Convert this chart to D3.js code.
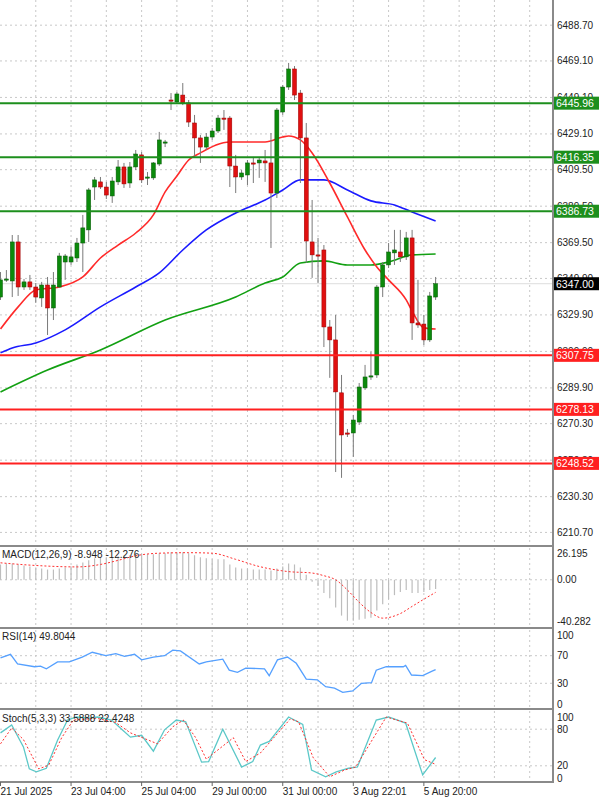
<!DOCTYPE html>
<html><head><meta charset="utf-8">
<script src="https://cdn.jsdelivr.net/npm/d3@7"></script>
<style>body{margin:0;background:#fff}svg{display:block;font-family:"Liberation Sans",Arial,sans-serif}</style>
</head><body><svg id="c" width="600" height="798"></svg>
<script>
const opens=[6339.7,6349.6,6348.5,6369.9,6345.2,6348.0,6345.2,6339.2,6346.3,6333.7,6345.2,6358.9,6358.9,6361.1,6369.3,6376.5,6400.0,6402.8,6400.0,6395.1,6402.8,6411.0,6402.2,6411.0,6417.6,6405.0,6405.0,6412.6,6424.7,6447.7,6446.6,6450.4,6446.1,6435.1,6426.9,6421.9,6427.4,6430.7,6437.8,6437.8,6411.5,6405.5,6406.6,6413.2,6413.2,6414.3,6413.2,6396.7,6441.1,6454.8,6464.7,6451.5,6426.9,6369.9,6362.8,6365.5,6323.3,6316.2,6287.2,6265.2,6265.2,6271.2,6289.9,6295.9,6297.0,6345.2,6357.3,6363.9,6364.4,6361.7,6372.1,6325.5,6324.9,6316.2,6339.7];
const highs=[6353.4,6354.5,6373.7,6373.7,6349.6,6351.8,6347.4,6348.0,6350.7,6353.4,6363.9,6363.3,6367.1,6372.1,6384.7,6399.5,6405.5,6405.5,6402.8,6405.5,6414.8,6413.2,6413.7,6420.3,6419.2,6408.2,6413.7,6430.2,6425.8,6451.5,6452.1,6457.0,6447.7,6439.5,6428.5,6429.6,6432.4,6439.5,6442.2,6438.9,6417.6,6409.3,6414.8,6416.5,6416.5,6420.3,6429.6,6443.3,6455.9,6468.0,6466.3,6453.2,6435.1,6392.9,6372.1,6368.2,6327.1,6329.9,6297.0,6267.4,6275.1,6292.6,6302.5,6309.6,6346.3,6358.9,6369.3,6376.5,6376.5,6375.4,6376.5,6349.1,6329.9,6342.5,6350.7];
const lows=[6338.1,6348.0,6339.7,6340.3,6343.6,6343.6,6336.5,6334.3,6318.9,6327.1,6344.7,6349.1,6357.3,6358.9,6353.4,6369.9,6392.9,6398.9,6393.4,6391.3,6401.1,6399.5,6399.5,6409.3,6402.2,6401.1,6403.9,6411.5,6421.9,6442.2,6445.5,6444.9,6432.9,6416.5,6413.2,6420.3,6425.8,6429.6,6431.3,6400.0,6396.7,6403.9,6401.1,6402.2,6405.0,6402.8,6366.6,6394.0,6439.5,6453.2,6447.7,6402.2,6358.4,6350.2,6347.4,6312.3,6295.4,6243.8,6240.6,6263.0,6252.1,6269.6,6288.8,6294.3,6295.4,6339.7,6355.6,6357.3,6358.9,6360.0,6316.2,6322.8,6313.4,6315.1,6338.1];
const closes=[6349.1,6349.6,6369.9,6345.2,6348.0,6345.2,6339.7,6346.3,6333.7,6346.3,6362.2,6362.2,6361.7,6369.3,6377.6,6398.4,6403.9,6400.0,6395.6,6403.3,6411.0,6401.7,6411.0,6418.1,6403.9,6405.5,6413.2,6425.8,6424.7,6447.4,6451.0,6446.1,6435.6,6426.9,6421.9,6427.4,6430.7,6437.8,6437.5,6411.5,6405.5,6407.7,6413.2,6413.0,6414.8,6413.2,6396.7,6442.2,6454.8,6464.7,6450.4,6426.9,6370.4,6362.8,6362.6,6323.3,6316.2,6287.7,6264.1,6265.0,6272.3,6290.4,6295.9,6296.5,6345.2,6357.3,6364.4,6365.5,6361.7,6372.1,6325.5,6324.4,6316.2,6340.3,6347.0];

const maRedIdx=[0,3,6,10,14,17,20,23,26,28,30,32,34,39,45,48,49,51,53,56,59,62,64,66,69,70,72,74];
const maRedVal=[6322.2,6334.3,6343.6,6345.2,6350.7,6361.1,6368.2,6374.8,6384.7,6397.3,6406.0,6414.8,6418.7,6424.7,6424.7,6427.4,6428.0,6425.8,6418.7,6402.2,6383.6,6365.5,6356.2,6349.1,6338.1,6332.0,6322.8,6322.2];
const maBlueIdx=[0,2,6,11,17,23,27,31,35,40,45,48,51,55,59,63,67,70,74];
const maBlueVal=[6309.1,6311.8,6314.5,6321.7,6334.3,6345.2,6352.9,6365.5,6376.5,6385.8,6392.9,6398.4,6403.9,6403.9,6398.4,6392.4,6390.2,6386.3,6381.4];
const maGreenIdx=[0,8,17,28,40,45,48,51,55,59,63,66,70,74];
const maGreenVal=[6287.7,6299.7,6310.7,6327.1,6339.7,6347.4,6350.7,6358.4,6359.5,6357.3,6357.3,6358.9,6362.8,6363.3];

const priceTicks=[6488.70,6469.10,6449.10,6429.10,6409.50,6389.50,6369.50,6349.90,6329.90,6309.90,6289.90,6270.30,6250.30,6230.30,6210.70];
const resistLevels=[6445.96,6416.35,6386.73];
const supportLevels=[6307.75,6278.13,6248.52];
const lastPrice=6347.00;

const macdHist=[15,16,16,15,14,13,12,11,10,10,11,12,13,15,17,19,21,22,22,22,23,24,24,25,25,25,25,26,26,27,27,27,26,24,22,21,20,20,20,15,12,11,11,10,10,10,9,11,13,16,15,12,5,-2,-6,-13,-18,-27,-35,-40,-40,-39,-38,-37,-30,-24,-19,-15,-12,-10,-13,-13,-12,-10,-8.948];
const macdSigIdx=[0,6,13,17,20,23,27,32,36,40,44,49,53,55,57,59,61,63,65,68,70,72,74];
const macdSigVal=[16.6,14,12.6,15,19,23.5,26,26.5,26,20,13,8,6.6,4,0,-10,-22,-32,-37.5,-33,-26,-19,-12.276];
const macdTicks=[26.195,0,-40.282];

const rsiIdx=[0,1.7,2.9,5.8,6.8,7.8,9.7,11.7,13.9,15.6,17.9,19.6,21.1,22.8,24,26,27.9,29.3,30.6,33.8,35,37.8,38.9,40.3,41.7,44.9,45.7,47.1,48.8,50.3,52,53.9,55.3,56.8,58.2,59.9,61.4,63.1,63.9,65.6,68.5,68.9,69.9,71.8,73.5,74];
const rsiVal=[67,72,58,54,55,51,61,61,68,75,70,73,69,72,64,68,70,78,77,58,61,65,49,46,52,51,41,64,68,59,36,35,25,23,17,19,30,31,49,54,54,56,42,41,48,49.8];
const rsiTicks=[100,70,30,0];

const stKIdx=[0,1.9,3.9,4.9,6.1,7.8,9.7,11.4,12.9,15,16.5,18.9,20.7,22.1,24,26,27.9,29.9,31.5,34.2,35.4,37.8,41,42.9,44.2,45.7,49,51.4,52.9,55.3,57.1,59.2,60.7,63.9,66,68.9,71.8,74];
const stKVal=[74,87,51,15,10,16,62,95,100,98,100,95,79,67,70,44,79,95,92,26,27,80,18,27,54,60,100,88,13,2,10,16,18,95,100,90,5,33.59];
const stDIdx=[0,1.9,3.9,6.5,8.2,10.4,12.4,16.3,19.6,22.1,26.7,29.3,31.1,33.2,35,39.6,41.7,44.2,49.3,50.7,53.2,56,58.5,60.4,65.6,69.2,72.1,74];
const stDVal=[56,82,63,15,21,66,95,98,91,74,56,84,95,66,31,66,27,41,97,92,33,2,13,18,100,90,30,22.42];
const stTicks=[100,80,20,0];
const timeLabels=["21 Jul 2025","23 Jul 04:00","25 Jul 04:00","29 Jul 00:00","31 Jul 00:00","3 Aug 22:01","5 Aug 20:00"];

const svg=d3.select("#c");
const W=553, step=5.88;
const x=d3.scaleLinear().domain([0,1]).range([0.5,0.5+step]);
const y=d3.scaleLinear().domain([6203.8,6502.5]).range([545,0]);
const grid="#c8c8c8";

function vgrid(y0,y1){for(let i=6;i*step<W;i+=6){svg.append("line").attr("x1",x(i)).attr("x2",x(i)).attr("y1",y0).attr("y2",y1).attr("stroke",grid).attr("stroke-dasharray","2,3");}}
// main grid
vgrid(0,545);
priceTicks.forEach(t=>{svg.append("line").attr("x1",0).attr("x2",W).attr("y1",y(t)).attr("y2",y(t)).attr("stroke",grid).attr("stroke-dasharray","2,3");
 svg.append("text").attr("x",557).attr("y",y(t)+3.5).attr("font-size",10).attr("fill","#222").text(t.toFixed(2));});
svg.append("line").attr("x1",0).attr("x2",W).attr("y1",y(lastPrice)).attr("y2",y(lastPrice)).attr("stroke","#ddd");

// MAs
const line=d3.line().curve(d3.curveMonotoneX);
function ma(idx,val,col){svg.append("path").attr("d",line(idx.map((d,i)=>[x(d),y(val[i])]))).attr("fill","none").attr("stroke",col).attr("stroke-width",1.6);}
ma(maGreenIdx,maGreenVal,"#12a012");ma(maBlueIdx,maBlueVal,"#1a1aff");ma(maRedIdx,maRedVal,"#ff2a2a");

// candles
closes.forEach((c,i)=>{const o=opens[i],up=c>=o;const cx=x(i);
 svg.append("line").attr("x1",cx).attr("x2",cx).attr("y1",y(highs[i])).attr("y2",y(lows[i])).attr("stroke","#7a7a7a");
 const top=y(Math.max(o,c)),bot=y(Math.min(o,c));
 svg.append("rect").attr("x",cx-2).attr("width",4).attr("y",top).attr("height",Math.max(1.2,bot-top)).attr("fill",up?"#0b8a0b":"#e01010").attr("stroke",up?"#0a5a0a":"#900").attr("stroke-width",0.5);});

// levels
function level(v,col,bg,txtCol){svg.append("line").attr("x1",0).attr("x2",W).attr("y1",y(v)).attr("y2",y(v)).attr("stroke",col).attr("stroke-width",2);
 svg.append("rect").attr("x",W).attr("y",y(v)-6.5).attr("width",46).attr("height",13).attr("fill",bg);
 svg.append("text").attr("x",556).attr("y",y(v)+3.8).attr("font-size",10.5).attr("fill",txtCol).text(v.toFixed(2));}
resistLevels.forEach(v=>level(v,"#1d8f1d","#1d8f1d","#fff"));
supportLevels.forEach(v=>level(v,"#ff2020","#ff2020","#fff"));
svg.append("rect").attr("x",W).attr("y",y(lastPrice)-6.5).attr("width",46).attr("height",13).attr("fill","#000");
svg.append("text").attr("x",556).attr("y",y(lastPrice)+3.8).attr("font-size",10.5).attr("fill","#fff").text(lastPrice.toFixed(2));

// MACD panel
const ym=d3.scaleLinear().domain([-40.282,26.195]).range([621,553]);
vgrid(548,627);
svg.append("line").attr("x1",0).attr("x2",W).attr("y1",ym(0)).attr("y2",ym(0)).attr("stroke",grid).attr("stroke-dasharray","2,3");
macdHist.forEach((v,i)=>svg.append("line").attr("x1",x(i)).attr("x2",x(i)).attr("y1",ym(0)).attr("y2",ym(v)).attr("stroke","#bdbdbd").attr("stroke-width",1.2));
svg.append("path").attr("d",line(macdSigIdx.map((d,i)=>[x(d),ym(macdSigVal[i])]))).attr("fill","none").attr("stroke","#ff3030").attr("stroke-dasharray","2,2");
macdTicks.forEach(t=>svg.append("text").attr("x",557).attr("y",ym(t)+3.5).attr("font-size",10).attr("fill","#222").text(t===0?"0.00":t.toFixed(3)));
svg.append("text").attr("x",2).attr("y",558).attr("font-size",10).attr("fill","#222").text("MACD(12,26,9) -8.948 -12.276");

// RSI panel
const yr=d3.scaleLinear().domain([0,100]).range([704,635]);
vgrid(630,708);
[70,30].forEach(t=>svg.append("line").attr("x1",0).attr("x2",W).attr("y1",yr(t)).attr("y2",yr(t)).attr("stroke",grid).attr("stroke-dasharray","2,3"));
svg.append("path").attr("d",d3.line()(rsiIdx.map((d,i)=>[x(d),yr(rsiVal[i])]))).attr("fill","none").attr("stroke","#55a0ff").attr("stroke-width",1.3);
rsiTicks.forEach(t=>svg.append("text").attr("x",557).attr("y",yr(t)+3.5).attr("font-size",10).attr("fill","#222").text(t));
svg.append("text").attr("x",2).attr("y",640).attr("font-size",10).attr("fill","#222").text("RSI(14) 49.8044");

// Stoch panel
const ys=d3.scaleLinear().domain([0,100]).range([778,717]);
vgrid(711,781);
[80,20].forEach(t=>svg.append("line").attr("x1",0).attr("x2",W).attr("y1",ys(t)).attr("y2",ys(t)).attr("stroke",grid).attr("stroke-dasharray","2,3"));
svg.append("path").attr("d",d3.line()(stKIdx.map((d,i)=>[x(d),ys(stKVal[i])]))).attr("fill","none").attr("stroke","#5cc8c8").attr("stroke-width",1.3);
svg.append("path").attr("d",d3.line()(stDIdx.map((d,i)=>[x(d),ys(stDVal[i])]))).attr("fill","none").attr("stroke","#ff3030").attr("stroke-dasharray","2,2");
stTicks.forEach(t=>svg.append("text").attr("x",557).attr("y",ys(t)+3.5).attr("font-size",10).attr("fill","#222").text(t));
svg.append("text").attr("x",2).attr("y",722).attr("font-size",10).attr("fill","#222").text("Stoch(5,3,3) 33.5888 22.4248");

// borders
[546,628,709,782].forEach(v=>svg.append("line").attr("x1",0).attr("x2",W+1).attr("y1",v).attr("y2",v).attr("stroke","#8a8a8a").attr("stroke-width",2));
svg.append("line").attr("x1",W).attr("x2",W).attr("y1",0).attr("y2",782).attr("stroke","#8a8a8a").attr("stroke-width",2);

// time labels
timeLabels.forEach((t,k)=>{const xi=x(k*12);
 svg.append("line").attr("x1",xi).attr("x2",xi).attr("y1",782).attr("y2",786).attr("stroke","#666");
 svg.append("text").attr("x",xi).attr("y",795).attr("font-size",10).attr("fill","#222").text(t);});
</script></body></html>
